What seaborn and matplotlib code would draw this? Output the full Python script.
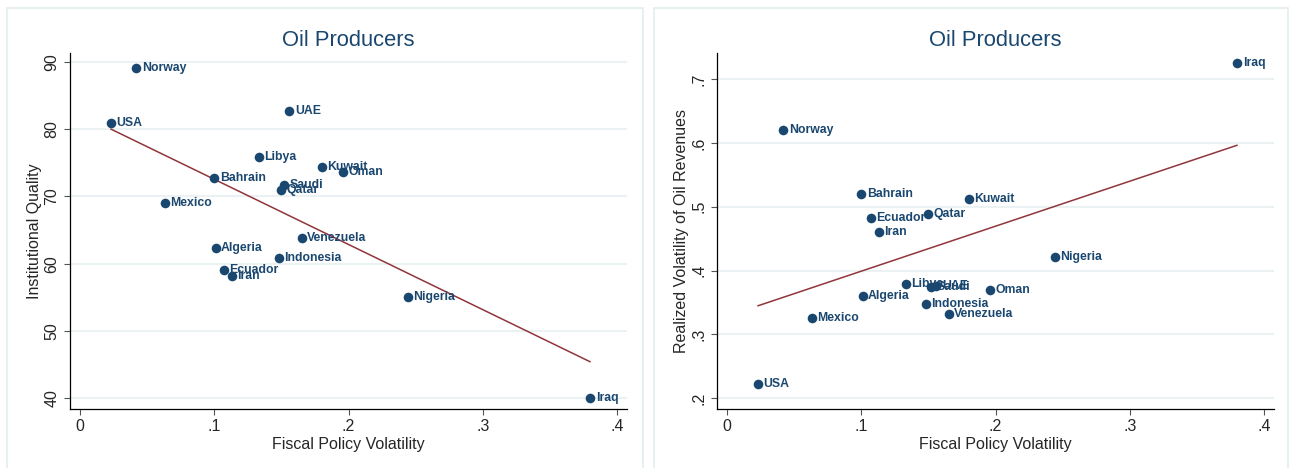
import numpy as np
import pandas as pd
import matplotlib.pyplot as plt
import seaborn as sns
from matplotlib.patches import Rectangle

sns.set_style("white")
plt.rcParams['font.family'] = ['Liberation Sans', 'DejaVu Sans']

# data
countries = ['Norway', 'USA', 'UAE', 'Libya', 'Kuwait', 'Oman', 'Bahrain', 'Saudi',
             'Qatar', 'Mexico', 'Venezuela', 'Algeria', 'Indonesia', 'Ecuador', 'Iran',
             'Nigeria', 'Iraq']
fiscal_vol = [0.042, 0.023, 0.156, 0.133, 0.180, 0.196, 0.100, 0.152,
              0.150, 0.063, 0.165, 0.101, 0.148, 0.107, 0.113,
              0.244, 0.380]
inst_quality = [89.1, 80.9, 82.7, 75.9, 74.4, 73.6, 72.7, 71.7,
                71.0, 69.0, 63.8, 62.3, 60.9, 59.0, 58.2,
                55.0, 40.0]
oil_vol = [0.620, 0.222, 0.376, 0.379, 0.512, 0.369, 0.520, 0.374,
           0.488, 0.326, 0.332, 0.360, 0.348, 0.482, 0.460,
           0.421, 0.725]

df = pd.DataFrame({'country': countries, 'fpv': fiscal_vol,
                   'iq': inst_quality, 'ov': oil_vol})

navy = '#1a476f'
maroon = '#90353b'
grid_col = '#eaf2f3'

W, H = 1290, 468
fig = plt.figure(figsize=(W / 100, H / 100), dpi=100)

# panel borders
for x0, x1 in [(7, 643), (654, 1288)]:
    fig.patches.append(Rectangle((x0 / W, -0.05), (x1 - x0) / W, (H - 8) / H + 0.05,
                                 transform=fig.transFigure, fill=False,
                                 edgecolor='#e3ecee', linewidth=1.2))

ax1 = fig.add_axes([70 / W, (H - 409) / H, (627 - 70) / W, (409 - 53) / H])
ax2 = fig.add_axes([717 / W, (H - 409) / H, (1274 - 717) / W, (409 - 53) / H])

panels = [
    (ax1, 'iq', 'Institutional Quality', [40, 50, 60, 70, 80, 90],
     ['40', '50', '60', '70', '80', '90'], (38.4, 91.3)),
    (ax2, 'ov', 'Realized Volatility of Oil Revenues', [0.2, 0.3, 0.4, 0.5, 0.6, 0.7],
     ['.2', '.3', '.4', '.5', '.6', '.7'], (0.183, 0.741)),
]

for ax, ycol, ylab, yt, ytl, ylim in panels:
    ax.set_xlim(-0.0074, 0.4074)
    ax.set_ylim(*ylim)
    ax.set_yticks(yt)
    ax.set_yticklabels(ytl, rotation=90, va='center')
    ax.set_xticks([0, 0.1, 0.2, 0.3, 0.4])
    ax.set_xticklabels(['0', '.1', '.2', '.3', '.4'])
    for t in yt:
        ax.axhline(t, color=grid_col, linewidth=1.5, zorder=0)
    sns.regplot(data=df, x='fpv', y=ycol, ax=ax, scatter=False, ci=None,
                line_kws={'color': maroon, 'linewidth': 1.1})
    sns.scatterplot(data=df, x='fpv', y=ycol, ax=ax, color=navy, s=48,
                    edgecolor=navy, linewidth=0, zorder=3)
    for _, r in df.iterrows():
        ax.annotate(r['country'], (r['fpv'], r[ycol]), xytext=(4, 0),
                    textcoords='offset points', va='center', ha='left',
                    fontsize=8.8, fontweight='bold', color=navy, zorder=4)
    ax.set_title('Oil Producers', fontsize=15.8, color=navy, pad=5)
    ax.set_xlabel('Fiscal Policy Volatility', fontsize=11.5, labelpad=2)
    ax.set_ylabel(ylab, fontsize=11.5, labelpad=2)
    ax.tick_params(axis='both', direction='out', length=4, width=0.8,
                   color='#555555', labelsize=11.5, left=True, bottom=True)
    for s in ['top', 'right']:
        ax.spines[s].set_visible(False)
    for s in ['left', 'bottom']:
        ax.spines[s].set_color('black')
        ax.spines[s].set_linewidth(0.9)

fig.savefig('out.png', dpi=100)
